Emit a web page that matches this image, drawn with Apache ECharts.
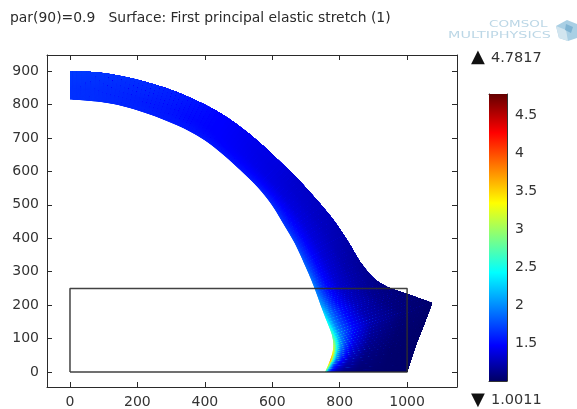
<!DOCTYPE html>
<html><head><meta charset="utf-8">
<style>html,body{margin:0;padding:0;background:#fff}#c{width:577px;height:409px;filter:blur(0.45px)}</style>
<script src="https://cdn.jsdelivr.net/npm/echarts@6/dist/echarts.min.js"></script>
</head><body><div id="c"></div>
<script>
const xTicks=[0,200,400,600,800,1000];
const yTicks=[0,100,200,300,400,500,600,700,800,900];
const barTicks=[1.5,2,2.5,3,3.5,4,4.5];
const valueMin=1.0011, valueMax=4.7817;
const titleText='par(90)=0.9   Surface: First principal elastic stretch (1)';
const rectX=[0,1000,1000,0,0];
const rectY=[0,0,250,250,0];
// deformed body: inner and outer edge of each mesh station, data units
const innerX=[0,71,141,209,275,339,400,455,506,555,598,633,667,695,716,733,744,757,777,781,772,757];
const innerY=[815,810,799,780,756,728,693,650,603,555,501,443,385,324,275,230,199,164,111,72,36,0];
const outerX=[0,78,156,232,306,378,447,510,570,626,681,733,783,827,860,899,941,1000,1074,1047,1024,1000];
const outerY=[900,896,884,865,841,810,773,729,679,626,571,513,452,386,330,282,254,233,206,134,75,0];
const acrossT=[0,0.03,0.07,0.13,0.22,0.4,0.7,1];
const stretch=[
[1.66,1.66,1.66,1.66,1.66,1.66,1.68,1.70],
[1.64,1.64,1.64,1.64,1.64,1.64,1.66,1.68],
[1.62,1.62,1.62,1.62,1.62,1.62,1.64,1.66],
[1.60,1.60,1.60,1.60,1.59,1.59,1.62,1.64],
[1.58,1.58,1.57,1.57,1.56,1.56,1.58,1.60],
[1.57,1.57,1.55,1.55,1.53,1.51,1.53,1.55],
[1.56,1.56,1.54,1.52,1.50,1.48,1.48,1.48],
[1.56,1.55,1.53,1.51,1.47,1.45,1.44,1.43],
[1.57,1.55,1.52,1.50,1.46,1.42,1.40,1.40],
[1.60,1.58,1.54,1.50,1.45,1.39,1.37,1.37],
[1.65,1.61,1.57,1.52,1.45,1.37,1.33,1.31],
[1.70,1.66,1.60,1.54,1.47,1.37,1.31,1.28],
[1.76,1.70,1.63,1.56,1.47,1.36,1.28,1.25],
[1.85,1.78,1.68,1.60,1.48,1.35,1.25,1.20],
[1.92,1.84,1.74,1.62,1.49,1.34,1.22,1.16],
[1.98,1.90,1.78,1.65,1.50,1.32,1.20,1.12],
[2.10,2.00,1.85,1.68,1.50,1.30,1.15,1.08],
[2.40,2.15,1.92,1.72,1.50,1.26,1.10,1.05],
[2.75,2.30,1.95,1.72,1.48,1.20,1.06,1.03],
[3.25,2.60,2.05,1.70,1.40,1.14,1.04,1.02],
[3.90,2.70,1.95,1.60,1.30,1.10,1.03,1.02],
[2.80,1.80,1.40,1.20,1.10,1.05,1.03,1.02]];
const mapStops=[0,0.124,0.378,0.5,0.62,0.865,1];
const mapColors=[[0,0,100],[0,0,255],[0,255,255],[128,255,128],[255,255,0],[255,0,0],[100,0,0]];

function colorOf(v){
  const t=Math.max(0,Math.min(1,(v-valueMin)/(valueMax-valueMin)));
  let k=0; while(k<mapStops.length-2&&t>mapStops[k+1])k++;
  const f=(t-mapStops[k])/(mapStops[k+1]-mapStops[k]);
  const c=mapColors[k].map((a,n)=>Math.round(a+(mapColors[k+1][n]-a)*f));
  return 'rgb('+c.join(',')+')';
}
const last=innerX.length-1;
const tipStart=17,tipEnd=18; // the straight run of the outer edge that ends in the sharp tip
const tSteps=[];
for(let a=0;a<acrossT.length-1;a++){
  const n=Math.max(3,Math.ceil((acrossT[a+1]-acrossT[a])*60));
  for(let k=0;k<n;k++)tSteps.push({a,v:k/n,dv:1/n});
}
// rounded edge through the stations, within stations lo..hi
function spline(P,U,lo,hi){
  const s=Math.min(hi-1,Math.floor(U)),u=U-s;
  const p0=P[Math.max(lo,s-1)],p1=P[s],p2=P[s+1],p3=P[Math.min(hi,s+2)];
  return 0.5*(2*p1+(p2-p0)*u+(2*p0-5*p1+4*p2-p3)*u*u+(3*p1-p0-3*p2+p3)*u*u*u);
}
function outerRange(U){
  if(U<tipStart)return [0,tipStart];
  if(U<tipEnd)return [tipStart,tipEnd];
  return [tipEnd,last];
}
function bodyPoint(U,t){
  const r=outerRange(U);
  const ix=spline(innerX,U,0,last),iy=spline(innerY,U,0,last);
  let ox,oy;
  if(r[0]===tipStart){const u=U-tipStart;ox=outerX[tipStart]+(outerX[tipEnd]-outerX[tipStart])*u;oy=outerY[tipStart]+(outerY[tipEnd]-outerY[tipStart])*u;}
  else{ox=spline(outerX,U,r[0],r[1]);oy=spline(outerY,U,r[0],r[1]);}
  return [ix+(ox-ix)*t,iy+(oy-iy)*t];
}
function bodyValue(U,a,v){
  const s=Math.min(last-1,Math.floor(U)),u=U-s;
  const l=stretch[s][a]+(stretch[s][a+1]-stretch[s][a])*v;
  const r=stretch[s+1][a]+(stretch[s+1][a+1]-stretch[s+1][a])*v;
  return l+(r-l)*u;
}
const strips=[];
for(let s=0;s<last;s++)strips.push([innerX[s],innerY[s],s]);
// each strip is painted front to back: every facet reaches to the outer edge and into the next step,
// the following facet covers the overlap, so no seams show between facets
function renderStrip(p,api){
  const s=api.value(2),kids=[],N=6;
  for(let i=0;i<N;i++){
    const U0=s+i/N,U1=Math.min(last,s+(i+2)/N),Um=s+(i+0.5)/N;
    tSteps.forEach(step=>{
      const t=acrossT[step.a]+(acrossT[step.a+1]-acrossT[step.a])*step.v;
      const Us=U1>s+1?[U0,s+1,U1]:[U0,U1];
      const near=Us.map(U=>api.coord(bodyPoint(U,t)));
      const far=Us.slice().reverse().map(U=>api.coord(bodyPoint(U,1)));
      kids.push({type:'polygon',shape:{points:near.concat(far)},style:{fill:colorOf(bodyValue(Um,step.a,step.v+step.dv/2))},silent:true});
    });
  }
  return {type:'group',children:kids};
}
function renderBar(p,api){
  const a=api.coord([0,valueMax]),b=api.coord([1,valueMin]);
  const colorStops=mapStops.map((o,i)=>({offset:1-o,color:'rgb('+mapColors[i].join(',')+')'})).reverse();
  return {type:'rect',shape:{x:a[0],y:a[1],width:b[0]-a[0],height:b[1]-a[1]},
    style:{fill:{type:'linear',x:0,y:0,x2:0,y2:1,colorStops}},silent:true};
}
const font='"DejaVu Sans"',ink='#2a2a2a',fs=14;
const frameLine={show:true,onZero:false,lineStyle:{color:ink,width:1}};
const xMin=-68.2,xMax=1148,yMin=-44.9,yMax=948;
const plain=v=>String(v);
function xAx(pos,labels){return {type:'value',gridIndex:0,position:pos,min:xMin,max:xMax,splitLine:{show:false},axisLine:frameLine,
  axisTick:{show:true,inside:true,length:5,customValues:xTicks,lineStyle:{color:ink}},
  axisLabel:{show:labels,customValues:xTicks,color:'#333',fontFamily:font,fontSize:fs,margin:8,hideOverlap:false,formatter:plain}};}
function yAx(pos,labels){return {type:'value',gridIndex:0,position:pos,min:yMin,max:yMax,splitLine:{show:false},axisLine:frameLine,
  axisTick:{show:true,inside:true,length:5,customValues:yTicks,lineStyle:{color:ink}},
  axisLabel:{show:labels,customValues:yTicks,color:'#333',fontFamily:font,fontSize:fs,margin:8,hideOverlap:false,formatter:plain}};}
function barAx(pos,labels){return {type:'value',gridIndex:1,position:pos,min:valueMin,max:valueMax,splitLine:{show:false},
  axisLine:{show:true,onZero:false,lineStyle:{color:'#333',width:1}},
  axisTick:{show:true,inside:true,length:3,customValues:barTicks,lineStyle:{color:'#222'}},
  axisLabel:{show:labels,inside:false,customValues:barTicks,color:'#333',fontFamily:font,fontSize:fs,margin:8,hideOverlap:false,formatter:plain}};}
const logoBlue='#bcd7e6';
const chart=echarts.init(document.getElementById('c'),null,{renderer:'canvas'});
chart.setOption({
  animation:false,
  grid:[{left:47,right:120,top:55,bottom:22,containLabel:false},{left:489,width:18,top:94,height:287,containLabel:false}],
  xAxis:[xAx('bottom',true),xAx('top',false),
    {type:'value',gridIndex:1,min:0,max:1,show:true,position:'bottom',axisLine:{show:true,onZero:false,lineStyle:{color:'#333'}},axisTick:{show:false},axisLabel:{show:false},splitLine:{show:false}},
    {type:'value',gridIndex:1,min:0,max:1,show:true,position:'top',axisLine:{show:true,onZero:false,lineStyle:{color:'#333'}},axisTick:{show:false},axisLabel:{show:false},splitLine:{show:false}}],
  yAxis:[yAx('left',true),yAx('right',false),barAx('left',false),barAx('right',true)],
  series:[
    {type:'custom',xAxisIndex:0,yAxisIndex:0,data:strips,renderItem:renderStrip,clip:false,z:2,silent:true},
    {type:'line',xAxisIndex:0,yAxisIndex:0,data:rectX.map((x,i)=>[x,rectY[i]]),showSymbol:false,silent:true,z:3,
      lineStyle:{color:'rgba(45,45,45,0.9)',width:1.5}},
    {type:'custom',xAxisIndex:2,yAxisIndex:2,data:[[0,valueMin]],renderItem:renderBar,z:1,silent:true}
  ],
  graphic:[
    {type:'text',left:10,top:11,style:{text:titleText,font:'13.9px '+font,fill:'#2a2a2a'}},
    {type:'text',left:471,top:48,style:{text:'▲',font:'18px '+font,fill:'#111'}},
    {type:'text',left:491,top:51,style:{text:'4.7817',font:'14.5px '+font,fill:'#333'}},
    {type:'text',left:471,top:391,style:{text:'▼',font:'18px '+font,fill:'#111'}},
    {type:'text',left:491,top:393,style:{text:'1.0011',font:'14.5px '+font,fill:'#333'}},
    {type:'text',x:489,y:20,scaleX:1.5,style:{text:'COMSOL',font:'9px '+font,fill:logoBlue}},
    {type:'text',x:448,y:31,scaleX:1.6,style:{text:'MULTIPHYSICS',font:'9px '+font,fill:logoBlue}},
    {type:'polygon',shape:{points:[[556,26],[567,20],[577,24],[577,38],[568,41],[559,38]]},style:{fill:'#a9cfe4'}},
    {type:'polygon',shape:{points:[[556,26],[566,30],[568,41],[559,38]]},style:{fill:'#d2e5ef'}},
    {type:'polygon',shape:{points:[[566,24],[573,27],[571,33],[565,30]]},style:{fill:'#7fb4d3'}}
  ]
});
</script></body></html>
